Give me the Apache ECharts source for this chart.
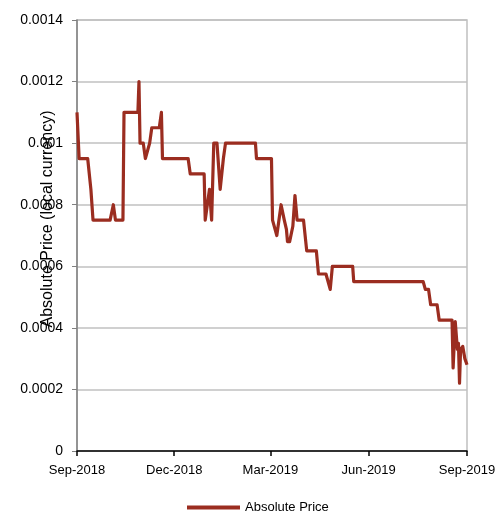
<!DOCTYPE html>
<html>
<head>
<meta charset="utf-8">
<script src="https://cdn.jsdelivr.net/npm/echarts@6/dist/echarts.min.js"></script>
<style>
html,body{margin:0;padding:0;background:#fff;}
#chart{width:500px;height:513px;}
</style>
</head>
<body>
<div id="chart"></div>
<script>
const dates = [
'2018-09-01','2018-09-03','2018-09-11','2018-09-14','2018-09-16','2018-10-02','2018-10-05','2018-10-07','2018-10-14','2018-10-15',
'2018-10-28','2018-10-29','2018-10-30','2018-11-02','2018-11-04','2018-11-08','2018-11-10','2018-11-17','2018-11-19','2018-11-20',
'2018-12-14','2018-12-16','2018-12-29','2018-12-30','2019-01-03','2019-01-05','2019-01-07','2019-01-10','2019-01-13','2019-01-16',
'2019-01-18','2019-02-15','2019-02-16','2019-03-02','2019-03-03','2019-03-07','2019-03-11','2019-03-14','2019-03-16','2019-03-17',
'2019-03-19','2019-03-22','2019-03-24','2019-03-26','2019-04-01','2019-04-04','2019-04-13','2019-04-15','2019-04-22','2019-04-26',
'2019-04-28','2019-05-17','2019-05-18','2019-07-22','2019-07-24','2019-07-27','2019-07-29','2019-08-04','2019-08-06','2019-08-18',
'2019-08-19','2019-08-21','2019-08-23','2019-08-24','2019-08-25','2019-08-26','2019-08-28','2019-08-30','2019-09-01'
];
const prices = [
0.0011,0.00095,0.00095,0.00085,0.00075,0.00075,0.0008,0.00075,0.00075,0.0011,
0.0011,0.0012,0.001,0.001,0.00095,0.001,0.00105,0.00105,0.0011,0.00095,
0.00095,0.0009,0.0009,0.00075,0.00085,0.00075,0.001,0.001,0.00085,0.00095,
0.001,0.001,0.00095,0.00095,0.00075,0.0007,0.0008,0.00075,0.00072,0.00068,
0.00068,0.00073,0.00083,0.00075,0.00075,0.00065,0.00065,0.000575,0.000575,0.000525,
0.0006,0.0006,0.00055,0.00055,0.000525,0.000525,0.000475,0.000475,0.000425,0.000425,
0.00027,0.00042,0.00033,0.00035,0.00022,0.00033,0.00034,0.0003,0.00028
];
const xTicks = ['2018-09-01','2018-12-01','2019-03-01','2019-06-01','2019-09-01'];
const monthNames = ['Jan','Feb','Mar','Apr','May','Jun','Jul','Aug','Sep','Oct','Nov','Dec'];
const seriesName = 'Absolute Price';
const yTitle = 'Absolute Price (local currency)';

function ts(s){ const p = s.split('-').map(Number); return new Date(p[0], p[1]-1, p[2]).getTime(); }
const tickTs = xTicks.map(ts);
const lineData = dates.map((d,i)=>[ts(d), prices[i]]);
const FONT = 'Liberation Sans, Arial, sans-serif';

const chart = echarts.init(document.getElementById('chart'), null, {renderer:'canvas'});
chart.setOption({
  animation:false,
  backgroundColor:'#ffffff',
  grid:{left:77, right:33, top:20, bottom:62, show:true, borderColor:'#c0c0c0', borderWidth:1.5, backgroundColor:'transparent'},
  xAxis:{
    type:'value',
    min:tickTs[0], max:tickTs[tickTs.length-1],
    axisLine:{show:true, onZero:false, lineStyle:{color:'#000', width:1.5}},
    axisTick:{show:true, customValues:tickTs, length:5, lineStyle:{color:'#000', width:1.5}},
    axisLabel:{customValues:tickTs, color:'#000', fontSize:13, fontFamily:FONT, margin:13,
      formatter:function(v){ const d=new Date(v); return monthNames[d.getMonth()]+'-'+d.getFullYear(); }},
    splitLine:{show:false}
  },
  yAxis:{
    type:'value', min:0, max:0.0014, interval:0.0002,
    axisLine:{show:true, lineStyle:{color:'#808080', width:1.5}},
    axisTick:{show:true, length:5, lineStyle:{color:'#808080', width:1}},
    axisLabel:{color:'#000', fontSize:14, fontFamily:FONT, margin:14,
      formatter:function(v){ return v===0 ? '0' : String(parseFloat(v.toFixed(4))); }},
    splitLine:{show:true, lineStyle:{color:'#c0c0c0', width:1.5}}
  },
  legend:{
    data:[seriesName], left:187, top:501, padding:0, icon:'rect', itemWidth:53, itemHeight:4, itemGap:6,
    textStyle:{color:'#000', fontSize:13, fontFamily:FONT}
  },
  graphic:[{
    type:'text', x:48, y:219, rotation:Math.PI/2,
    style:{text:yTitle, fill:'#000', fontSize:16, fontFamily:FONT, align:'center', verticalAlign:'middle'}
  }],
  series:[{
    name:seriesName, type:'line', data:lineData, showSymbol:false, symbol:'none',
    lineStyle:{color:'#9b2d20', width:3.2, join:'round'}, itemStyle:{color:'#9b2d20'}
  }]
});
</script>
</body>
</html>
